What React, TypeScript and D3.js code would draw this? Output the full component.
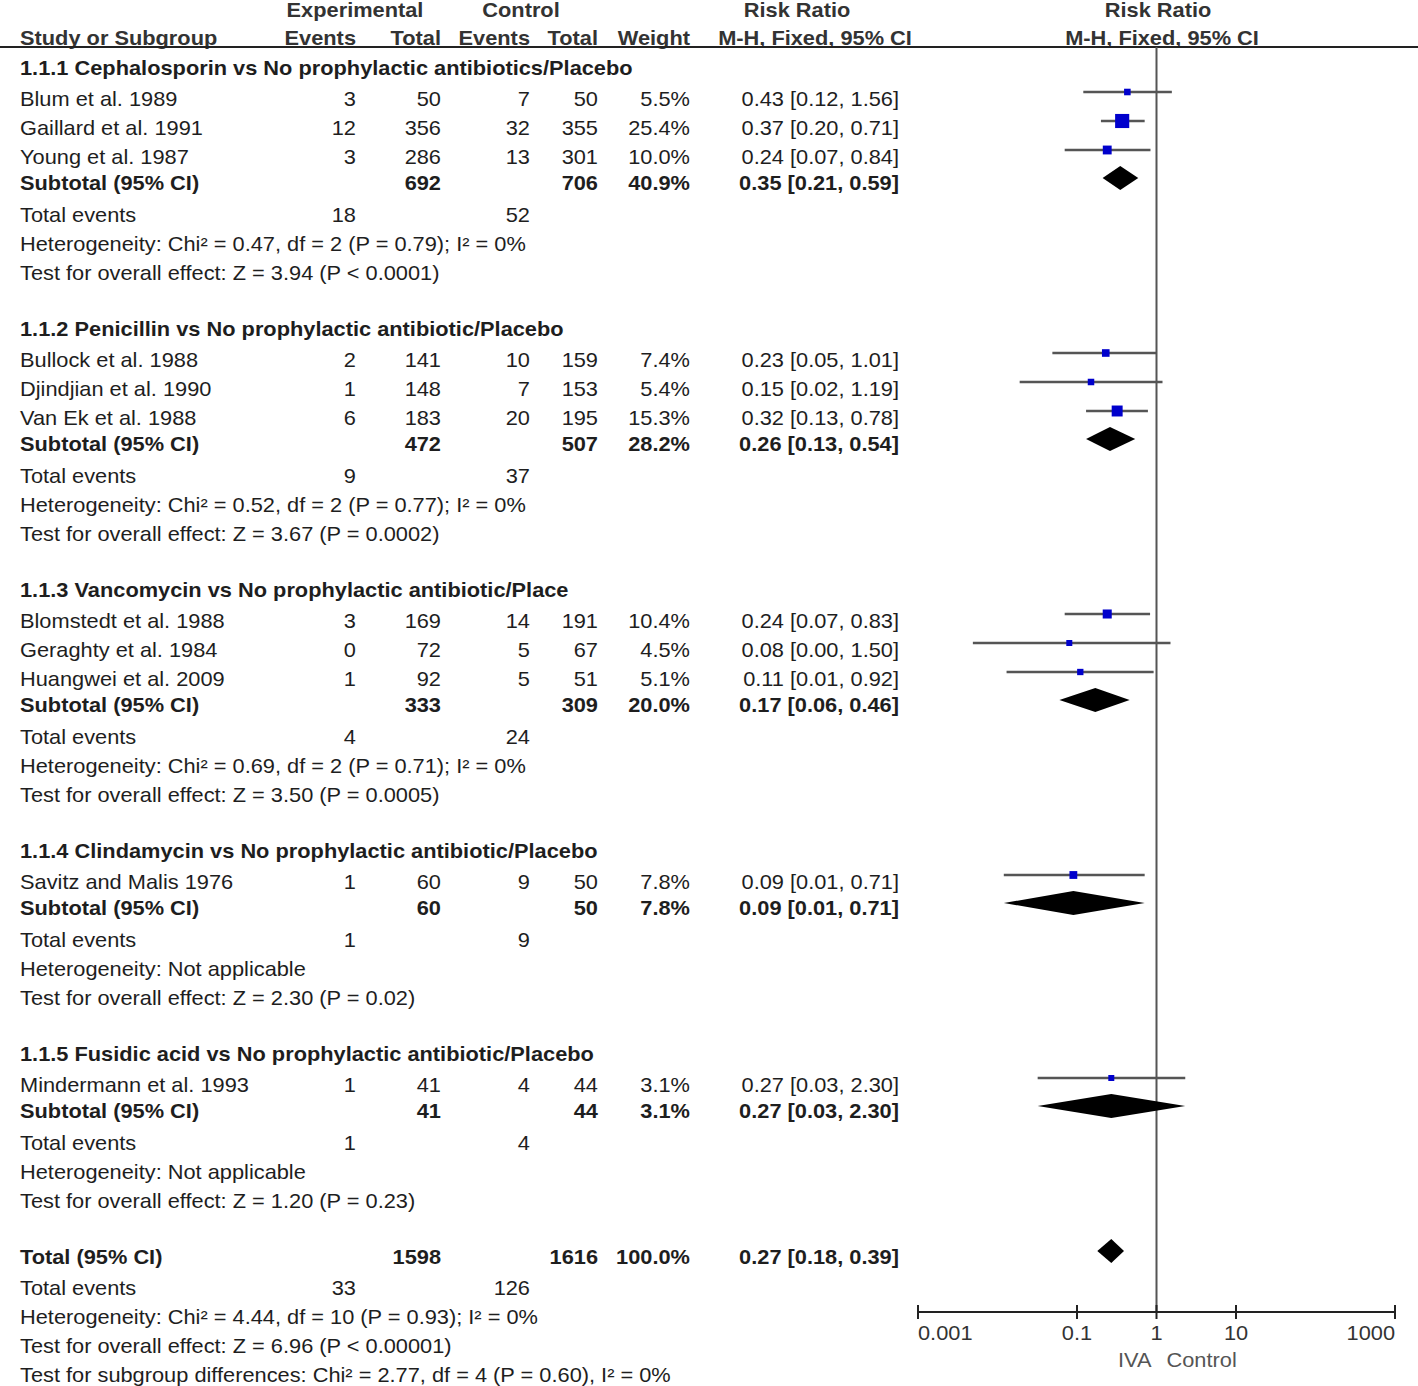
import React from "react";
import * as d3 from "d3";

// ---------- data ----------
const groupTitles = [
  "1.1.1 Cephalosporin vs No prophylactic antibiotics/Placebo",
  "1.1.2 Penicillin vs No prophylactic antibiotic/Placebo",
  "1.1.3 Vancomycin vs No prophylactic antibiotic/Place",
  "1.1.4 Clindamycin vs No prophylactic antibiotic/Placebo",
  "1.1.5 Fusidic acid vs No prophylactic antibiotic/Placebo",
];

const studyNames = [
  "Blum et al. 1989", "Gaillard et al. 1991", "Young et al. 1987",
  "Bullock et al. 1988", "Djindjian et al. 1990", "Van Ek et al. 1988",
  "Blomstedt et al. 1988", "Geraghty et al. 1984", "Huangwei et al. 2009",
  "Savitz and Malis 1976",
  "Mindermann et al. 1993",
];
const studyGroup = [0, 0, 0, 1, 1, 1, 2, 2, 2, 3, 4];
const expEvents = [3, 12, 3, 2, 1, 6, 3, 0, 1, 1, 1];
const expTotal = [50, 356, 286, 141, 148, 183, 169, 72, 92, 60, 41];
const ctlEvents = [7, 32, 13, 10, 7, 20, 14, 5, 5, 9, 4];
const ctlTotal = [50, 355, 301, 159, 153, 195, 191, 67, 51, 50, 44];
const studyWeight = [5.5, 25.4, 10.0, 7.4, 5.4, 15.3, 10.4, 4.5, 5.1, 7.8, 3.1];
const studyRR = [0.43, 0.37, 0.24, 0.23, 0.15, 0.32, 0.24, 0.08, 0.11, 0.09, 0.27];
const studyLo = [0.12, 0.20, 0.07, 0.049, 0.019, 0.13, 0.07, 0.0049, 0.013, 0.012, 0.032];
const studyHi = [1.56, 0.71, 0.84, 1.01, 1.19, 0.78, 0.83, 1.50, 0.92, 0.71, 2.30];

const groupExpTotal = [692, 472, 333, 60, 41];
const groupCtlTotal = [706, 507, 309, 50, 44];
const groupWeight = [40.9, 28.2, 20.0, 7.8, 3.1];
const groupRR = [0.35, 0.26, 0.17, 0.09, 0.27];
const groupLo = [0.21, 0.13, 0.06, 0.012, 0.032];
const groupHi = [0.59, 0.54, 0.46, 0.71, 2.30];
const groupExpEvents = [18, 9, 4, 1, 1];
const groupCtlEvents = [52, 37, 24, 9, 4];
const groupHet = [
  "Heterogeneity: Chi² = 0.47, df = 2 (P = 0.79); I² = 0%",
  "Heterogeneity: Chi² = 0.52, df = 2 (P = 0.77); I² = 0%",
  "Heterogeneity: Chi² = 0.69, df = 2 (P = 0.71); I² = 0%",
  "Heterogeneity: Not applicable",
  "Heterogeneity: Not applicable",
];
const groupTest = [
  "Test for overall effect: Z = 3.94 (P < 0.0001)",
  "Test for overall effect: Z = 3.67 (P = 0.0002)",
  "Test for overall effect: Z = 3.50 (P = 0.0005)",
  "Test for overall effect: Z = 2.30 (P = 0.02)",
  "Test for overall effect: Z = 1.20 (P = 0.23)",
];

const totalExpTotal = 1598;
const totalCtlTotal = 1616;
const totalWeight = 100.0;
const totalRR = 0.27;
const totalLo = 0.18;
const totalHi = 0.39;
const totalExpEvents = 33;
const totalCtlEvents = 126;
const totalLines = [
  "Heterogeneity: Chi² = 4.44, df = 10 (P = 0.93); I² = 0%",
  "Test for overall effect: Z = 6.96 (P < 0.00001)",
  "Test for subgroup differences: Chi² = 2.77, df = 4 (P = 0.60), I² = 0%",
];

const axisTicks = [0.001, 0.1, 1, 10, 1000];
const axisTickLabels = ["0.001", "0.1", "1", "10", "1000"];
const favourLeft = "IVA";
const favourRight = "Control";

// ---------- layout ----------
const W = 1418;
const H = 1386;
const FONT = "'Liberation Sans', Arial, sans-serif";
const TXT = "#1e1e1e";
const STRETCH = 1.09;

const col = {
  name: 20,
  expE: 356,
  expT: 441,
  ctlE: 530,
  ctlT: 598,
  wt: 690,
  rr: 899,
};

type Row =
  | { kind: "title"; y: number; g: number }
  | { kind: "study"; y: number; i: number }
  | { kind: "sub"; y: number; g: number }
  | { kind: "events"; y: number; e: number; c: number }
  | { kind: "text"; y: number; t: string }
  | { kind: "total"; y: number };

function buildRows(): Row[] {
  const rows: Row[] = [];
  let y = 68;
  groupTitles.forEach((_, g) => {
    rows.push({ kind: "title", y, g });
    y += 31;
    const idx = studyGroup.map((sg, i) => (sg === g ? i : -1)).filter((i) => i >= 0);
    idx.forEach((i, k) => {
      rows.push({ kind: "study", y, i });
      if (k < idx.length - 1) y += 29;
    });
    y += 26;
    rows.push({ kind: "sub", y, g });
    y += 32;
    rows.push({ kind: "events", y, e: groupExpEvents[g], c: groupCtlEvents[g] });
    y += 29;
    rows.push({ kind: "text", y, t: groupHet[g] });
    y += 29;
    rows.push({ kind: "text", y, t: groupTest[g] });
    y += 56;
  });
  rows.push({ kind: "total", y });
  y += 31;
  rows.push({ kind: "events", y, e: totalExpEvents, c: totalCtlEvents });
  totalLines.forEach((t) => {
    y += 29;
    rows.push({ kind: "text", y, t });
  });
  return rows;
}

const fmtCI = (r: number, lo: number, hi: number) =>
  `${r.toFixed(2)} [${lo.toFixed(2)}, ${hi.toFixed(2)}]`;

function T(props: any) {
  const { x, y, children, ...rest } = props;
  return (
    <text
      transform={`translate(${x},${y}) scale(${STRETCH},1)`}
      fontFamily={FONT}
      fontSize={20}
      fill={TXT}
      dy="0.35em"
      {...rest}
    >
      {children}
    </text>
  );
}

export default function App() {
  const x = d3.scaleLog().domain([0.001, 1000]).range([918, 1395]);
  const sizeScale = d3.scaleSqrt().domain([0, 100]).range([0, 28]);
  const rows = buildRows();
  const axisY = 1312;
  const x1 = x(1);

  const diamond = (cy: number, r: number, lo: number, hi: number) => {
    const h = 12;
    const path = d3.path();
    path.moveTo(x(lo), cy);
    path.lineTo(x(r), cy - h);
    path.lineTo(x(hi), cy);
    path.lineTo(x(r), cy + h);
    path.closePath();
    return <path d={path.toString()} fill="#000" />;
  };

  const HB = { fontWeight: "bold", fill: "#333" };

  return (
    <svg
      width={W}
      height={H}
      style={{ position: "absolute", left: 0, top: 0, background: "#fff" }}
    >
      <rect width={W} height={H} fill="#fff" />
      {/* headers */}
      <T x={355} y={10} textAnchor="middle" {...HB}>Experimental</T>
      <T x={521} y={10} textAnchor="middle" {...HB}>Control</T>
      <T x={797} y={10} textAnchor="middle" {...HB}>Risk Ratio</T>
      <T x={1158} y={10} textAnchor="middle" {...HB}>Risk Ratio</T>
      <T x={col.name} y={38} {...HB}>Study or Subgroup</T>
      <T x={col.expE} y={38} textAnchor="end" {...HB}>Events</T>
      <T x={col.expT} y={38} textAnchor="end" {...HB}>Total</T>
      <T x={col.ctlE} y={38} textAnchor="end" {...HB}>Events</T>
      <T x={col.ctlT} y={38} textAnchor="end" {...HB}>Total</T>
      <T x={col.wt} y={38} textAnchor="end" {...HB}>Weight</T>
      <T x={815} y={38} textAnchor="middle" {...HB}>M-H, Fixed, 95% CI</T>
      <T x={1162} y={38} textAnchor="middle" {...HB}>M-H, Fixed, 95% CI</T>
      <line x1={0} x2={W} y1={47} y2={47} stroke="#222" strokeWidth={2} />

      {/* null line */}
      <line x1={x1} x2={x1} y1={47} y2={axisY} stroke="#555" strokeWidth={2} />

      {rows.map((r, k) => {
        if (r.kind === "title")
          return (
            <T key={k} x={col.name} y={r.y} fontWeight="bold">
              {groupTitles[r.g]}
            </T>
          );
        if (r.kind === "study") {
          const i = r.i;
          const s = Math.max(6, sizeScale(studyWeight[i]));
          const my = r.y - 7;
          return (
            <g key={k}>
              <T x={col.name} y={r.y}>{studyNames[i]}</T>
              <T x={col.expE} y={r.y} textAnchor="end">{expEvents[i]}</T>
              <T x={col.expT} y={r.y} textAnchor="end">{expTotal[i]}</T>
              <T x={col.ctlE} y={r.y} textAnchor="end">{ctlEvents[i]}</T>
              <T x={col.ctlT} y={r.y} textAnchor="end">{ctlTotal[i]}</T>
              <T x={col.wt} y={r.y} textAnchor="end">{studyWeight[i].toFixed(1)}%</T>
              <T x={col.rr} y={r.y} textAnchor="end">{fmtCI(studyRR[i], studyLo[i], studyHi[i])}</T>
              <line x1={x(studyLo[i])} x2={x(studyHi[i])} y1={my} y2={my} stroke="#555" strokeWidth={2.5} />
              <rect x={x(studyRR[i]) - s / 2} y={my - s / 2} width={s} height={s} fill="#0000cc" />
            </g>
          );
        }
        if (r.kind === "sub") {
          const g = r.g;
          return (
            <g key={k}>
              <T x={col.name} y={r.y} fontWeight="bold">Subtotal (95% CI)</T>
              <T x={col.expT} y={r.y} textAnchor="end" fontWeight="bold">{groupExpTotal[g]}</T>
              <T x={col.ctlT} y={r.y} textAnchor="end" fontWeight="bold">{groupCtlTotal[g]}</T>
              <T x={col.wt} y={r.y} textAnchor="end" fontWeight="bold">{groupWeight[g].toFixed(1)}%</T>
              <T x={col.rr} y={r.y} textAnchor="end" fontWeight="bold">{fmtCI(groupRR[g], groupLo[g], groupHi[g])}</T>
              {diamond(r.y - 5, groupRR[g], groupLo[g], groupHi[g])}
            </g>
          );
        }
        if (r.kind === "events")
          return (
            <g key={k}>
              <T x={col.name} y={r.y}>Total events</T>
              <T x={col.expE} y={r.y} textAnchor="end">{r.e}</T>
              <T x={col.ctlE} y={r.y} textAnchor="end">{r.c}</T>
            </g>
          );
        if (r.kind === "text")
          return (
            <T key={k} x={col.name} y={r.y}>{r.t}</T>
          );
        return (
          <g key={k}>
            <T x={col.name} y={r.y} fontWeight="bold">Total (95% CI)</T>
            <T x={col.expT} y={r.y} textAnchor="end" fontWeight="bold">{totalExpTotal}</T>
            <T x={col.ctlT} y={r.y} textAnchor="end" fontWeight="bold">{totalCtlTotal}</T>
            <T x={col.wt} y={r.y} textAnchor="end" fontWeight="bold">{totalWeight.toFixed(1)}%</T>
            <T x={col.rr} y={r.y} textAnchor="end" fontWeight="bold">{fmtCI(totalRR, totalLo, totalHi)}</T>
            {diamond(r.y - 6, totalRR, totalLo, totalHi)}
          </g>
        );
      })}

      {/* axis */}
      <line x1={x(0.001)} x2={x(1000)} y1={axisY} y2={axisY} stroke="#222" strokeWidth={2} />
      {axisTicks.map((t, i) => (
        <g key={i}>
          <line x1={x(t)} x2={x(t)} y1={axisY - 7} y2={axisY + 7} stroke="#222" strokeWidth={2} />
          <T
            x={x(t)}
            y={1333}
            textAnchor={i === 0 ? "start" : i === axisTicks.length - 1 ? "end" : "middle"}
            fill="#333"
          >
            {axisTickLabels[i]}
          </T>
        </g>
      ))}
      <T x={x1 - 5} y={1360} textAnchor="end" fill="#555">{favourLeft}</T>
      <T x={x1 + 10} y={1360} fill="#555">{favourRight}</T>
    </svg>
  );
}
